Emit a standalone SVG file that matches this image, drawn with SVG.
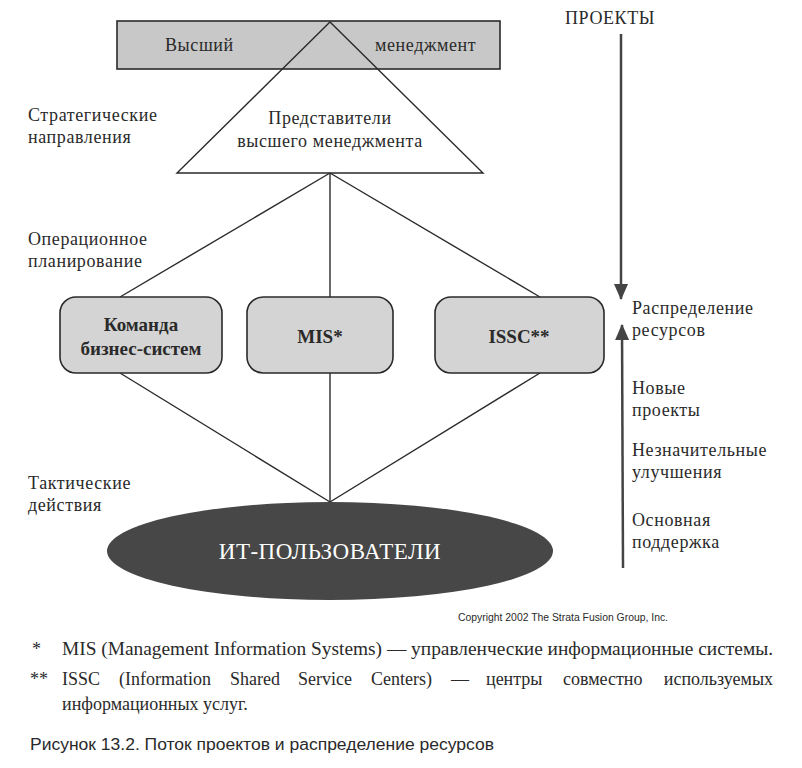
<svg xmlns="http://www.w3.org/2000/svg" width="802" height="768" viewBox="0 0 802 768">
<style>
.t{font-family:"Liberation Serif","DejaVu Serif",serif;font-size:18px;letter-spacing:0.6px;fill:#2a2a2a}
.b{font-family:"Liberation Serif","DejaVu Serif",serif;font-size:19px;font-weight:bold;fill:#2a2a2a}
.f{font-family:"Liberation Serif","DejaVu Serif",serif;font-size:18px;fill:#2a2a2a}
.s{font-family:"Liberation Sans","DejaVu Sans",sans-serif;fill:#2a2a2a}
.ln{stroke:#2a2a2a;stroke-width:1.4;fill:none}
.box{fill:#d4d4d4;stroke:#2a2a2a;stroke-width:1.6}
</style>
<defs>
<marker id="ah" markerWidth="16" markerHeight="14" refX="15" refY="7" orient="auto" markerUnits="userSpaceOnUse" viewBox="0 0 16 14">
<path d="M0,0 L16,7 L0,14 z" fill="#444"/>
</marker>
</defs>
<rect width="802" height="768" fill="#ffffff"/>

<g id="top-mgmt">
<rect x="117" y="21" width="383" height="48" fill="#c8c8c8" stroke="#2a2a2a" stroke-width="1.6"/>
<text class="t" x="165" y="51">Высший</text>
<text class="t" x="375" y="51">менеджмент</text>
</g>

<g id="representatives">
<polygon points="330,22 177,173 483,173" fill="none" stroke="#2a2a2a" stroke-width="1.4"/>
<text class="t" x="330" y="124" text-anchor="middle">Представители</text>
<text class="t" x="330" y="147" text-anchor="middle">высшего менеджмента</text>
</g>

<g id="connectors">
<line class="ln" x1="330" y1="173" x2="120" y2="297"/>
<line class="ln" x1="330" y1="173" x2="330" y2="297"/>
<line class="ln" x1="330" y1="173" x2="540" y2="297"/>
<line class="ln" x1="120" y1="373" x2="330" y2="502"/>
<line class="ln" x1="330" y1="373" x2="330" y2="502"/>
<line class="ln" x1="540" y1="373" x2="330" y2="502"/>
<line x1="621" y1="34" x2="621" y2="299" stroke="#444" stroke-width="2.5" marker-end="url(#ah)"/>
<line x1="623" y1="568" x2="622" y2="325" stroke="#444" stroke-width="2.5" marker-end="url(#ah)"/>
</g>

<g id="business-team">
<rect class="box" x="60" y="297" width="162" height="76" rx="16"/>
<text class="b" x="141" y="331" text-anchor="middle">Команда</text>
<text class="b" x="141" y="355" text-anchor="middle">бизнес-систем</text>
</g>

<g id="mis">
<rect class="box" x="247" y="297" width="146" height="76" rx="16"/>
<text class="b" x="320" y="343" text-anchor="middle">MIS*</text>
</g>

<g id="issc">
<rect class="box" x="435" y="297" width="169" height="76" rx="16"/>
<text class="b" x="519" y="343" text-anchor="middle">ISSC**</text>
</g>

<g id="it-users">
<ellipse cx="330" cy="551" rx="223" ry="49" fill="#474747"/>
<text x="330" y="559" text-anchor="middle" font-family="Liberation Serif, DejaVu Serif, serif" font-size="23" letter-spacing="0.5" fill="#ffffff">ИТ-ПОЛЬЗОВАТЕЛИ</text>
</g>

<g id="left-labels">
<text class="t" x="28" y="121">Стратегические</text>
<text class="t" x="28" y="143">направления</text>
<text class="t" x="28" y="245">Операционное</text>
<text class="t" x="28" y="267">планирование</text>
<text class="t" x="28" y="489">Тактические</text>
<text class="t" x="28" y="511">действия</text>
</g>

<g id="right-labels">
<text class="t" x="565" y="24">ПРОЕКТЫ</text>
<text class="t" x="632" y="314">Распределение</text>
<text class="t" x="632" y="336">ресурсов</text>
<text class="t" x="632" y="394">Новые</text>
<text class="t" x="632" y="416">проекты</text>
<text class="t" x="632" y="456">Незначительные</text>
<text class="t" x="632" y="478">улучшения</text>
<text class="t" x="632" y="526">Основная</text>
<text class="t" x="632" y="548">поддержка</text>
</g>

<text class="s" x="458" y="621" font-size="10" textLength="210" lengthAdjust="spacingAndGlyphs">Copyright 2002 The Strata Fusion Group, Inc.</text>

<g id="footnotes">
<text class="f" x="32" y="655">*</text>
<text class="f" x="62" y="655" textLength="711" lengthAdjust="spacingAndGlyphs">MIS (Management Information Systems) — управленческие информационные системы.</text>
<text class="f" x="30" y="685">**</text>
<text class="f" y="685"><tspan x="62">ISSC</tspan><tspan x="119">(Information</tspan><tspan x="230">Shared</tspan><tspan x="298">Service</tspan><tspan x="371">Centers)</tspan><tspan x="451">—</tspan><tspan x="486">центры</tspan><tspan x="563">совместно</tspan></text>
<text class="f" x="773" y="685" text-anchor="end">используемых</text>
<text class="f" x="62" y="710">информационных услуг.</text>
<text class="s" x="30" y="750" font-size="16" textLength="464" lengthAdjust="spacingAndGlyphs">Рисунок 13.2. Поток проектов и распределение ресурсов</text>
</g>
</svg>
